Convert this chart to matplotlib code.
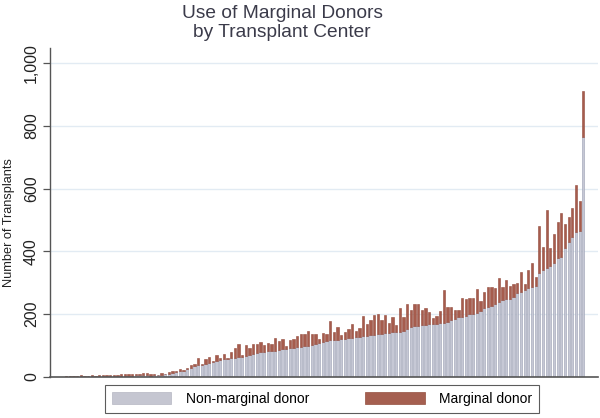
import matplotlib
matplotlib.use("Agg")
import matplotlib.pyplot as plt
import numpy as np
from matplotlib.patches import Patch

plt.rcParams['font.family'] = ['Liberation Sans', 'DejaVu Sans']

title = "Use of Marginal Donors\nby Transplant Center"
ylabel = "Number of Transplants"
legend_labels = ["Non-marginal donor", "Marginal donor"]
yticks = [0, 200, 400, 600, 800, 1000]
ytick_labels = ["0", "200", "400", "600", "800", "1,000"]

non_marginal = [
    1, 1, 1, 1, 2, 1, 2, 2, 1, 2, 2, 3, 2, 3, 3, 4, 3, 4, 4, 5, 5, 6, 6,
    4, 5, 5, 6, 8, 11, 13, 15, 18, 20, 24, 30, 34, 37, 39, 43, 46, 48, 52, 54, 56, 58, 60, 62, 64, 65,
    68, 70, 74, 78, 80, 81, 82, 83, 84, 86, 88, 90, 91, 93, 95, 97, 98, 100, 102, 105, 108, 111, 114, 117,
    118, 119, 120, 121, 123, 125, 127, 129, 131, 132, 133, 134, 136, 137, 139, 140, 142, 143, 144, 147,
    152, 158, 162, 164, 166,
    167, 168, 169, 170, 171, 173, 176, 181, 186, 190, 192, 194, 201, 202, 203, 211, 219, 222, 226, 233,
    240, 244, 248, 250, 256,
    267, 272, 277, 282, 288, 290, 332, 341, 346, 353, 362, 378, 383, 410, 431, 447, 463, 466, 765,
]

total = [
    3, 3, 4, 3, 5, 3, 4, 5, 1, 5, 6, 5, 5, 7, 6, 8, 8, 8, 9, 11, 10, 12, 13,
    8, 8, 7, 12, 10, 17, 19, 19, 25, 22, 28, 38, 41, 59, 43, 56, 63, 52, 70, 62, 73, 62, 81, 91, 104, 70,
    102, 91, 105, 105, 113, 102, 107, 104, 123, 115, 120, 100, 118, 120, 131, 137, 137, 148, 137, 137, 121, 141, 136, 178,
    144, 158, 134, 144, 152, 168, 148, 157, 194, 168, 182, 197, 201, 182, 197, 173, 190, 166, 221, 190,
    232, 213, 231, 232, 215,
    220, 208, 189, 194, 210, 277, 222, 224, 215, 213, 251, 247, 251, 251, 280, 243, 272, 286, 288, 282,
    316, 288, 309, 290, 295,
    300, 335, 296, 341, 362, 319, 481, 415, 532, 412, 457, 495, 523, 486, 511, 537, 611, 562, 912,
]

nm = np.array(non_marginal, dtype=float)
tot = np.array(total, dtype=float)
marginal = np.maximum(tot - nm, 1.0)

fig = plt.figure(figsize=(6.0, 4.18), dpi=100)
ax = fig.add_axes([50/600, 1 - 377/418, 548/600, (377 - 48)/418])

x = np.arange(len(nm))
ax.bar(x, nm, width=0.62, color='#c6c8d5', edgecolor='#9a9eb2', linewidth=0.4, zorder=2)
ax.bar(x, marginal, bottom=nm, width=0.62, color='#a65c4d', edgecolor='#924a3c', linewidth=0.4, zorder=2)

ax.set_xlim(-4.4, 145)
ax.set_ylim(0, 1048)
ax.set_yticks(yticks)
ax.set_yticklabels(ytick_labels, rotation=90, va='center', fontsize=11.5, color='#222222')
ax.set_xticks([])
for yv in yticks[1:]:
    ax.axhline(yv, color='#e2ebf3', lw=1.0, zorder=1)
ax.spines['top'].set_visible(False)
ax.spines['right'].set_visible(False)
ax.spines['left'].set_color('#555555')
ax.spines['bottom'].set_color('#555555')
ax.spines['left'].set_linewidth(1.0)
ax.spines['bottom'].set_linewidth(1.2)
ax.tick_params(axis='y', length=5, width=0.9, color='#555555', pad=3)
ax.set_ylabel(ylabel, fontsize=9.2, color='#222222')
ax.yaxis.set_label_coords(-0.063, 0.47)

fig.text(282/600, 1 - 23/418, title, ha='center', va='center', fontsize=13.8,
         color='#3b3b4a', linespacing=1.12)

handles = [Patch(facecolor='#c5c6d1', edgecolor='#b5b6c2', linewidth=0.5),
           Patch(facecolor='#a55f50', edgecolor='#94503f', linewidth=0.5)]
leg = fig.legend(handles, legend_labels, loc='center', bbox_to_anchor=(322/600, 1 - 399/418),
                 ncol=2, fontsize=10, frameon=True, fancybox=False, edgecolor='#333333',
                 handlelength=4.3, handleheight=1.0, handletextpad=1.05, columnspacing=4.0,
                 borderpad=0.5)
leg.get_frame().set_linewidth(0.8)

fig.savefig("out.png", dpi=100, facecolor='white')
